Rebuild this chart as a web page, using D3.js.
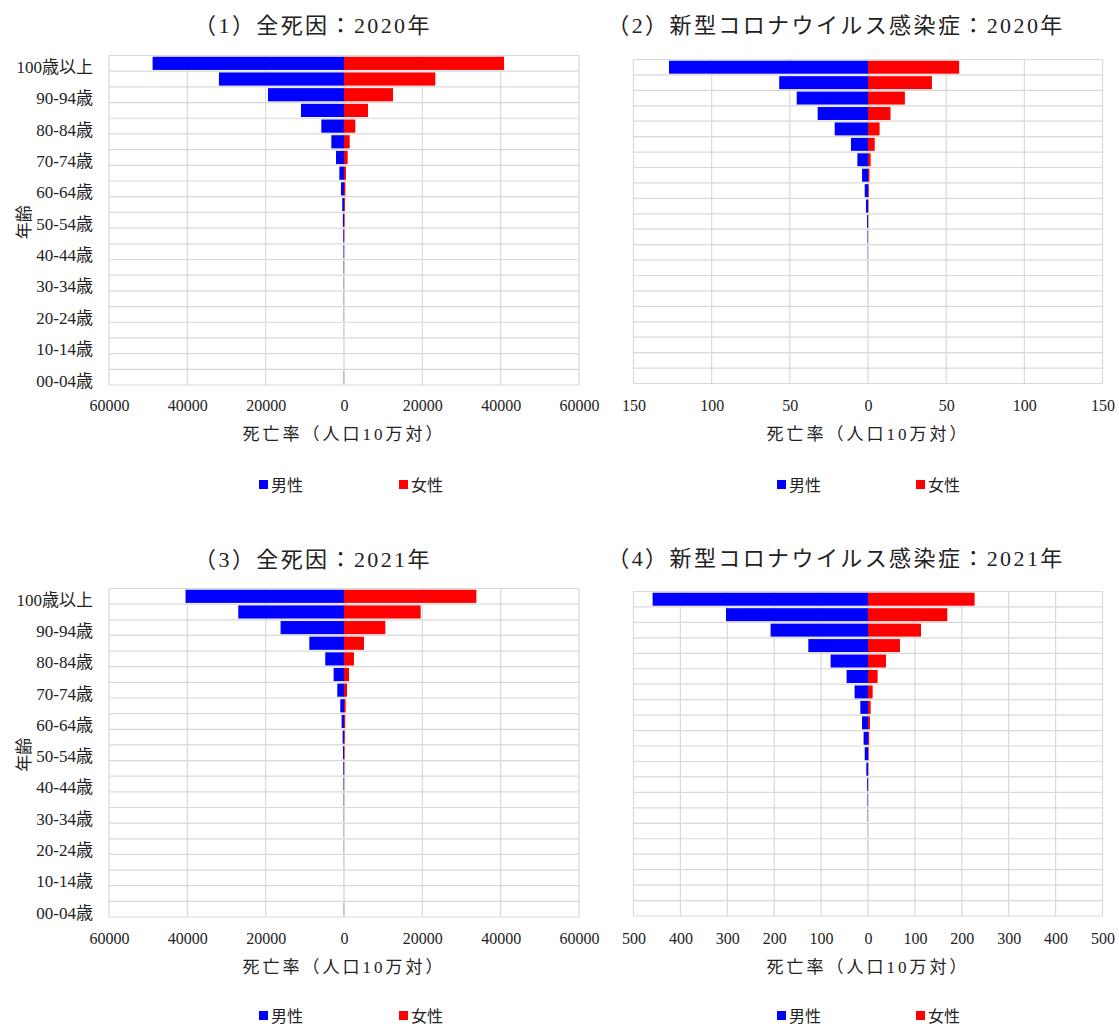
<!DOCTYPE html>
<html lang="ja">
<head>
<meta charset="utf-8">
<title>年齢階級別死亡率</title>
<script src="https://cdn.jsdelivr.net/npm/d3@7"></script>
<style>
  html, body { margin: 0; padding: 0; background: #fff; }
  svg { display: block; font-family: "Liberation Serif", "Noto Sans CJK JP", serif; }
  .grid line { stroke: #d9d9d9; stroke-width: 1.2; }
  .tick-label { font-size: 16px; fill: #222; }
  .age-label { font-size: 17px; fill: #222; }
  .title { font-size: 22px; fill: #222; letter-spacing: 2.4px; }
  .axis-title { font-size: 17px; fill: #222; letter-spacing: 3px; }
  .legend text { font-size: 16px; fill: #222; }
</style>
</head>
<body>
<svg id="chart" width="1119" height="1024"></svg>
<script>
// Age groups, youngest first
const ageGroups = [
  "00-04歳", "05-09歳", "10-14歳", "15-19歳", "20-24歳", "25-29歳", "30-34歳",
  "35-39歳", "40-44歳", "45-49歳", "50-54歳", "55-59歳", "60-64歳", "65-69歳",
  "70-74歳", "75-79歳", "80-84歳", "85-89歳", "90-94歳", "95-99歳", "100歳以上"
];
// Age labels printed on the vertical axis (every other group)
const ageTickLabels = [
  "00-04歳", "10-14歳", "20-24歳", "30-34歳", "40-44歳", "50-54歳",
  "60-64歳", "70-74歳", "80-84歳", "90-94歳", "100歳以上"
];

// Death rate per 100,000 population — all causes, 2020
const allCause2020Male = [
  50, 7, 9, 25, 48, 53, 62, 85, 125, 190, 290, 450, 770, 1190,
  2040, 3230, 5790, 10980, 19410, 31930, 48870
];
const allCause2020Female = [
  40, 6, 7, 14, 22, 24, 30, 45, 70, 105, 155, 240, 350, 500,
  940, 1450, 2890, 6130, 12520, 23320, 40870
];

// Death rate per 100,000 population — COVID-19, 2020
const covid2020Male = [
  0, 0, 0, 0, 0.02, 0.03, 0.05, 0.08, 0.15, 0.3, 0.6, 1.3, 2.1, 3.8,
  6.8, 10.9, 21.3, 32.2, 45.6, 56.8, 127.3
];
const covid2020Female = [
  0, 0, 0, 0, 0.01, 0.02, 0.03, 0.05, 0.08, 0.1, 0.2, 0.3, 0.5, 0.9,
  1.7, 4.3, 7.4, 14.4, 23.6, 40.9, 58.3
];

// Death rate per 100,000 population — all causes, 2021
const allCause2021Male = [
  48, 7, 9, 24, 47, 52, 60, 82, 120, 180, 250, 350, 610, 950,
  1710, 2650, 4780, 8860, 16190, 27000, 40460
];
const allCause2021Female = [
  38, 6, 7, 13, 21, 24, 30, 44, 68, 100, 150, 210, 300, 420,
  770, 1280, 2550, 5110, 10550, 19570, 33800
];

// Death rate per 100,000 population — COVID-19, 2021
const covid2021Male = [
  0, 0.02, 0.05, 0.1, 0.2, 0.3, 0.6, 1.0, 1.8, 3.6, 7.0, 9.4, 12.8, 16.4,
  28.6, 45.6, 79.7, 127.3, 207.7, 302.8, 459.3
];
const covid2021Female = [
  0, 0.01, 0.02, 0.05, 0.1, 0.1, 0.2, 0.3, 0.5, 0.8, 1.5, 2.5, 4.2, 5.7,
  9.9, 20.5, 38.4, 68.2, 113, 169.1, 227.3
];

// Horizontal axis ticks for each scale
const ticksAllCause = [-60000, -40000, -20000, 0, 20000, 40000, 60000];
const ticksCovid2020 = [-150, -100, -50, 0, 50, 100, 150];
const ticksCovid2021 = [-500, -400, -300, -200, -100, 0, 100, 200, 300, 400, 500];

const panelTitles = [
  "（1）全死因：2020年",
  "（2）新型コロナウイルス感染症：2020年",
  "（3）全死因：2021年",
  "（4）新型コロナウイルス感染症：2021年"
];
const seriesNames = ["男性", "女性"];
const seriesColors = ["#0000ff", "#ff0000"];
const axisTitle = "死亡率（人口10万対）";
const yTitle = "年齢";

const svg = d3.select("#chart");

const panels = [
  { title: panelTitles[0], male: allCause2020Male, female: allCause2020Female, ticks: ticksAllCause,
    x0: 109, x1: 579, y0: 55.5, y1: 385, titleX: 313, titleY: 25, tickY: 405, axisTitleY: 434,
    legendY: 485, legendX: [259, 399], showAges: true },
  { title: panelTitles[1], male: covid2020Male, female: covid2020Female, ticks: ticksCovid2020,
    x0: 633.5, x1: 1102.5, y0: 59.5, y1: 383.5, titleX: 836, titleY: 25, tickY: 405, axisTitleY: 434,
    legendY: 485, legendX: [777, 916], showAges: false },
  { title: panelTitles[2], male: allCause2021Male, female: allCause2021Female, ticks: ticksAllCause,
    x0: 109, x1: 579, y0: 588.5, y1: 917, titleX: 313, titleY: 559, tickY: 938, axisTitleY: 967,
    legendY: 1016, legendX: [259, 399], showAges: true },
  { title: panelTitles[3], male: covid2021Male, female: covid2021Female, ticks: ticksCovid2021,
    x0: 633.5, x1: 1102.5, y0: 591.5, y1: 916, titleX: 836, titleY: 558, tickY: 938, axisTitleY: 967,
    legendY: 1016, legendX: [777, 916], showAges: false }
];

panels.forEach(p => {
  const g = svg.append("g");
  const ext = d3.max(p.ticks);

  const x = d3.scaleLinear().domain([-ext, ext]).range([p.x0, p.x1]);
  // Oldest group at the top
  const y = d3.scaleBand()
    .domain(ageGroups.slice().reverse())
    .range([p.y0, p.y1])
    .paddingInner(0.16)
    .paddingOuter(0.08);
  const step = y.step();
  const rowEdges = d3.range(ageGroups.length + 1).map(i => p.y0 + i * step);

  // Title
  g.append("text").attr("class", "title")
    .attr("x", p.titleX).attr("y", p.titleY)
    .attr("text-anchor", "middle").attr("dominant-baseline", "central")
    .text(p.title);

  // Grid: one horizontal line per row boundary, one vertical line per tick
  const grid = g.append("g").attr("class", "grid");
  grid.selectAll("line.h").data(rowEdges).join("line").attr("class", "h")
    .attr("x1", p.x0).attr("x2", p.x1).attr("y1", d => d).attr("y2", d => d);
  grid.selectAll("line.v").data(p.ticks).join("line").attr("class", "v")
    .attr("x1", d => x(d)).attr("x2", d => x(d)).attr("y1", p.y0).attr("y2", p.y1);

  // Male bars extend to the left of zero, female bars to the right
  const rows = ageGroups.map((a, i) => ({ age: a, male: p.male[i], female: p.female[i] }));
  g.append("g").selectAll("rect").data(rows).join("rect")
    .attr("x", d => x(-d.male)).attr("y", d => y(d.age))
    .attr("width", d => x(0) - x(-d.male)).attr("height", y.bandwidth())
    .attr("fill", seriesColors[0]);
  g.append("g").selectAll("rect").data(rows).join("rect")
    .attr("x", x(0)).attr("y", d => y(d.age))
    .attr("width", d => x(d.female) - x(0)).attr("height", y.bandwidth())
    .attr("fill", seriesColors[1]);

  // Horizontal axis labels (absolute values on both sides)
  const xAxis = d3.axisBottom(x).tickValues(p.ticks).tickFormat(d => Math.abs(d)).tickSize(0);
  const ax = g.append("g").attr("transform", `translate(0,${p.tickY})`).call(xAxis);
  ax.select(".domain").remove();
  ax.attr("font-size", null).attr("font-family", null);
  ax.selectAll("text").attr("class", "tick-label").attr("dy", null).attr("y", 0)
    .attr("dominant-baseline", "central");

  g.append("text").attr("class", "axis-title")
    .attr("x", (p.x0 + p.x1) / 2).attr("y", p.axisTitleY)
    .attr("text-anchor", "middle").attr("dominant-baseline", "central")
    .text(axisTitle);

  // Vertical axis labels and title
  if (p.showAges) {
    const yAxis = d3.axisLeft(y).tickValues(ageTickLabels).tickSize(0).tickPadding(0);
    const ay = g.append("g").attr("transform", `translate(${p.x0 - 16},0)`).call(yAxis);
    ay.select(".domain").remove();
    ay.attr("font-size", null).attr("font-family", null);
    ay.selectAll("text").attr("class", "age-label").attr("dy", "0.32em")
      .attr("transform", "translate(0,4)");

    g.append("text").attr("class", "age-label")
      .attr("transform", `translate(24,${(p.y0 + p.y1) / 2 + 2}) rotate(-90)`)
      .attr("text-anchor", "middle").attr("dominant-baseline", "central")
      .text(yTitle);
  }

  // Legend
  const lg = g.append("g").attr("class", "legend");
  seriesNames.forEach((name, i) => {
    lg.append("rect").attr("x", p.legendX[i]).attr("y", p.legendY - 5)
      .attr("width", 9).attr("height", 9).attr("fill", seriesColors[i]);
    lg.append("text").attr("x", p.legendX[i] + 12).attr("y", p.legendY)
      .attr("dominant-baseline", "central").text(name);
  });
});
</script>
</body>
</html>
